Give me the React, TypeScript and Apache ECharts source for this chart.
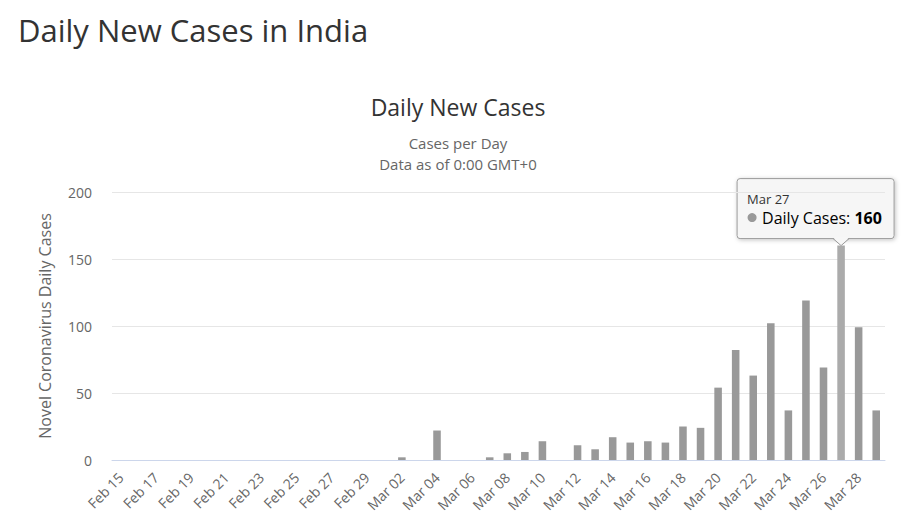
import React, { useEffect, useRef } from "react";
import * as echarts from "echarts";

const categories: string[] = [
  "Feb 15", "Feb 16", "Feb 17", "Feb 18", "Feb 19", "Feb 20", "Feb 21", "Feb 22",
  "Feb 23", "Feb 24", "Feb 25", "Feb 26", "Feb 27", "Feb 28", "Feb 29",
  "Mar 01", "Mar 02", "Mar 03", "Mar 04", "Mar 05", "Mar 06", "Mar 07", "Mar 08",
  "Mar 09", "Mar 10", "Mar 11", "Mar 12", "Mar 13", "Mar 14", "Mar 15", "Mar 16",
  "Mar 17", "Mar 18", "Mar 19", "Mar 20", "Mar 21", "Mar 22", "Mar 23", "Mar 24",
  "Mar 25", "Mar 26", "Mar 27", "Mar 28", "Mar 29",
];

const dailyCases: number[] = [
  0, 0, 0, 0, 0, 0, 0, 0,
  0, 0, 0, 0, 0, 0, 0,
  0, 2, 0, 22, 0, 0, 2, 5,
  6, 14, 0, 11, 8, 17, 13, 14,
  13, 25, 24, 54, 82, 63, 102, 37,
  119, 69, 160, 99, 37,
];

const yTicks = { min: 0, max: 200, interval: 50 };
const tooltipDate = "Mar 27";
const seriesName = "Daily Cases";

const FONT = "'Open Sans', 'Noto Sans', sans-serif";

export default function App() {
  const ref = useRef<HTMLDivElement>(null);

  useEffect(() => {
    if (!ref.current) return;
    const chart = echarts.init(ref.current, undefined, { renderer: "svg" });
    const hoverIndex = categories.indexOf(tooltipDate);

    const baseGraphic: any[] = [
      {
        type: "text",
        id: "mainTitle",
        left: 18,
        top: 14,
        style: {
          text: "Daily New Cases in India",
          fontSize: 31,
          fontFamily: FONT,
          fill: "#333",
        },
      },
      {
        type: "text",
        id: "chartTitle",
        x: 458,
        y: 107,
        style: {
          text: "Daily New Cases",
          fontSize: 23,
          fontFamily: FONT,
          fill: "#333",
          align: "center",
          verticalAlign: "middle",
        },
      },
      {
        type: "text",
        id: "sub1",
        x: 458,
        y: 143,
        style: {
          text: "Cases per Day",
          fontSize: 15,
          fontFamily: FONT,
          fill: "#666",
          align: "center",
          verticalAlign: "middle",
        },
      },
      {
        type: "text",
        id: "sub2",
        x: 458,
        y: 164,
        style: {
          text: "Data as of 0:00 GMT+0",
          fontSize: 15,
          fontFamily: FONT,
          fill: "#666",
          align: "center",
          verticalAlign: "middle",
        },
      },
    ];

    const baseOption: any = {
      animation: false,
      textStyle: { fontFamily: FONT },
      grid: { left: 112, right: 24, top: 192, bottom: 65 },
      xAxis: {
        type: "category",
        data: categories,
        axisLine: { lineStyle: { color: "#ccd6eb" } },
        axisTick: { show: false },
        axisLabel: {
          interval: 1,
          rotate: 45,
          margin: 15,
          fontSize: 14,
          color: "#666",
          fontFamily: FONT,
        },
      },
      yAxis: {
        type: "value",
        min: yTicks.min,
        max: yTicks.max,
        interval: yTicks.interval,
        name: "Novel Coronavirus Daily Cases",
        nameLocation: "middle",
        nameGap: 59,
        nameTextStyle: { fontSize: 16, color: "#666", fontFamily: FONT },
        axisLine: { show: false },
        axisTick: { show: false },
        axisLabel: { fontSize: 14, color: "#666", margin: 20, fontFamily: FONT },
        splitLine: { lineStyle: { color: "#e6e6e6" } },
      },
      series: [
        {
          type: "bar",
          name: seriesName,
          barWidth: "43%",
          data: dailyCases.map((v, i) =>
            i === hoverIndex ? { value: v, itemStyle: { color: "#ababab" } } : v
          ),
          itemStyle: { color: "#999999" },
        },
      ],
      graphic: baseGraphic,
    };

    chart.setOption(baseOption);

    // tooltip box anchored to the hovered bar
    const pt = chart.convertToPixel({ gridIndex: 0 }, [hoverIndex, dailyCases[hoverIndex]]) as number[];
    const tipX = pt[0];
    const tipY = pt[1];
    const boxLeft = tipX - 104;
    const boxBottom = tipY - 7;
    const boxW = 157;
    const boxH = 60;
    const boxTop = boxBottom - boxH;

    const tipGroup = {
      type: "group",
      id: "tip",
      children: [
        {
          type: "rect",
          shape: { x: boxLeft, y: boxTop, width: boxW, height: boxH, r: 3 },
          style: {
            fill: "rgba(247,247,247,0.92)",
            stroke: "#999",
            lineWidth: 1,
            shadowBlur: 4,
            shadowColor: "rgba(0,0,0,0.25)",
            shadowOffsetX: 1,
            shadowOffsetY: 1,
          },
        },
        {
          type: "polygon",
          shape: {
            points: [
              [tipX - 8, boxBottom - 1],
              [tipX, boxBottom + 7],
              [tipX + 8, boxBottom - 1],
            ],
          },
          style: { fill: "rgba(247,247,247,1)", stroke: "none" },
        },
        {
          type: "polyline",
          shape: {
            points: [
              [tipX - 8, boxBottom],
              [tipX, boxBottom + 7],
              [tipX + 8, boxBottom],
            ],
          },
          style: { stroke: "#999", lineWidth: 1, fill: "none" },
        },
        {
          type: "text",
          x: boxLeft + 10,
          y: boxTop + 20,
          style: {
            text: categories[hoverIndex],
            fontSize: 13,
            fontFamily: FONT,
            fill: "#333",
            verticalAlign: "middle",
          },
        },
        {
          type: "circle",
          shape: { cx: boxLeft + 15, cy: boxTop + 39, r: 4.5 },
          style: { fill: "#999" },
        },
        {
          type: "text",
          x: boxLeft + 25,
          y: boxTop + 39,
          style: {
            text: "{a|" + seriesName + ": }{b|" + dailyCases[hoverIndex] + "}",
            verticalAlign: "middle",
            rich: {
              a: { fontSize: 16, fontFamily: FONT, color: "#333" },
              b: { fontSize: 16, fontFamily: FONT, fontWeight: "bold", color: "#333" },
            },
          },
        },
      ],
    };

    chart.setOption({ ...baseOption, graphic: [...baseGraphic, tipGroup] }, { notMerge: true });

    return () => chart.dispose();
  }, []);

  return (
    <div
      ref={ref}
      style={{ position: "fixed", left: 0, top: 0, width: 909, height: 525, background: "#fff" }}
    />
  );
}
